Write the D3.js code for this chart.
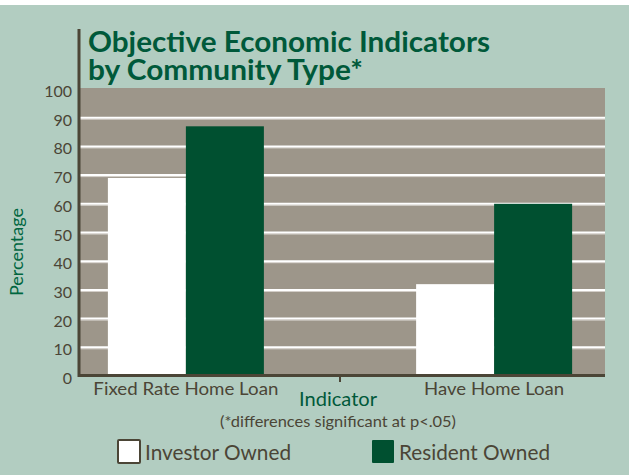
<!DOCTYPE html>
<html>
<head>
<meta charset="utf-8">
<title>Objective Economic Indicators by Community Type</title>
<script src="https://cdn.jsdelivr.net/npm/d3@7"></script>
<style>
  body { margin: 0; background: #fff; }
  text { font-family: Lato, "Open Sans", sans-serif; }
</style>
</head>
<body>
<svg id="chart"></svg>
<script>
  //1. Data
  var indicators = ["Fixed Rate Home Loan", "Have Home Loan"];
  var seriesNames = ["Investor Owned", "Resident Owned"];
  var investorOwned = [69, 32];
  var residentOwned = [87, 60];
  var yTicks = [0, 10, 20, 30, 40, 50, 60, 70, 80, 90, 100];
  var gridTicks = [10, 20, 30, 40, 50, 60, 70, 80, 90];

  //2. Properties
  var width = 629, height = 475;
  var plotLeft = 80, plotRight = 605, plotTop = 88, plotBottom = 376;
  var sage = "#b2cdc1", plotGray = "#9d968a", green = "#005030",
      titleGreen = "#00593a", dark = "#4b4536";

  var svg = d3.select("#chart").attr("width", width).attr("height", height);

  // page background (thin white strip on top, like a cropped page)
  svg.append("rect").attr("width", width).attr("height", height).attr("fill", "#fff");
  svg.append("rect").attr("y", 5).attr("width", width).attr("height", height - 5).attr("fill", sage);
  svg.append("text").attr("x", 117).attr("y", -4).attr("text-anchor", "end")
    .attr("fill", titleGreen).style("font-size", "24px").text("Housing");

  //3. Scales
  var y = d3.scaleLinear().domain([0, 100]).range([plotBottom, plotTop + 1]);
  var x = d3.scalePoint().domain(indicators).range([78, 602]).padding(0.35);
  var xs = d3.scaleBand().domain(seriesNames).range([-78, 78]);

  //4. Plot area
  svg.append("rect").attr("x", plotLeft).attr("y", plotTop)
    .attr("width", plotRight - plotLeft).attr("height", plotBottom - plotTop)
    .attr("fill", plotGray);

  var grid = svg.append("g");
  grid.selectAll(".shade").data(gridTicks).enter().append("line")
    .attr("x1", plotLeft).attr("x2", plotRight)
    .attr("y1", function(d){ return y(d) + 1.5; }).attr("y2", function(d){ return y(d) + 1.5; })
    .attr("stroke", "#d9d5cf").attr("stroke-width", 1);
  grid.selectAll(".gl").data(gridTicks).enter().append("line")
    .attr("x1", plotLeft).attr("x2", plotRight)
    .attr("y1", function(d){ return y(d); }).attr("y2", function(d){ return y(d); })
    .attr("stroke", "#fff").attr("stroke-width", 2);

  //5. Bars
  var rows = indicators.map(function(c, i){
    return { cat: c, values: [
      { s: seriesNames[0], v: investorOwned[i] },
      { s: seriesNames[1], v: residentOwned[i] } ] };
  });
  var colors = d3.scaleOrdinal().domain(seriesNames).range(["#fff", green]);

  var groups = svg.selectAll(".grp").data(rows).enter().append("g")
    .attr("transform", function(d){ return "translate(" + x(d.cat) + ",0)"; });
  groups.selectAll("rect").data(function(d){ return d.values; }).enter().append("rect")
    .attr("x", function(d){ return xs(d.s); })
    .attr("width", xs.bandwidth())
    .attr("y", function(d){ return y(d.v); })
    .attr("height", function(d){ return plotBottom - y(d.v); })
    .attr("fill", function(d){ return colors(d.s); });

  //6. Axes
  svg.append("line").attr("x1", 79).attr("x2", 79).attr("y1", 29).attr("y2", 377)
    .attr("stroke", dark).attr("stroke-width", 3);
  svg.append("line").attr("x1", 78).attr("x2", plotRight).attr("y1", 375.5).attr("y2", 375.5)
    .attr("stroke", dark).attr("stroke-width", 3);
  var mid = (x(indicators[0]) + x(indicators[1])) / 2;
  svg.append("line").attr("x1", mid).attr("x2", mid).attr("y1", 376).attr("y2", 382)
    .attr("stroke", dark).attr("stroke-width", 2);

  svg.selectAll(".ytick").data(yTicks).enter().append("text")
    .attr("x", 72).attr("y", function(d){ return y(d) + 8; })
    .attr("text-anchor", "end").attr("fill", dark).style("font-size", "16px")
    .text(function(d){ return d; });

  var xLabelWidth = [185, 140];
  svg.selectAll(".xtick").data(indicators).enter().append("text")
    .attr("x", function(d){ return x(d); }).attr("y", 395)
    .attr("text-anchor", "middle").attr("fill", dark).style("font-size", "18px")
    .attr("textLength", function(d, i){ return xLabelWidth[i]; })
    .attr("lengthAdjust", "spacingAndGlyphs")
    .text(function(d){ return d; });

  svg.append("text").attr("x", mid - 2).attr("y", 406).attr("text-anchor", "middle")
    .attr("fill", titleGreen).style("font-size", "19px")
    .attr("textLength", 78).attr("lengthAdjust", "spacingAndGlyphs").text("Indicator");
  svg.append("text").attr("x", mid - 2).attr("y", 427).attr("text-anchor", "middle")
    .attr("fill", dark).style("font-size", "16px")
    .attr("textLength", 236).attr("lengthAdjust", "spacingAndGlyphs")
    .text("(*differences significant at p<.05)");

  svg.append("text").attr("transform", "translate(23,252) rotate(-90)")
    .attr("text-anchor", "middle").attr("fill", "#00663f").style("font-size", "18px")
    .text("Percentage");

  //7. Title
  svg.append("text").attr("x", 88).attr("y", 52).attr("fill", titleGreen)
    .style("font-size", "28px").style("font-weight", "bold")
    .attr("textLength", 402).attr("lengthAdjust", "spacingAndGlyphs")
    .text("Objective Economic Indicators");
  svg.append("text").attr("x", 88).attr("y", 80).attr("fill", titleGreen)
    .style("font-size", "28px").style("font-weight", "bold")
    .attr("textLength", 275).attr("lengthAdjust", "spacingAndGlyphs")
    .text("by Community Type*");

  //8. Legend
  var legendX = [118, 372];
  var legendTextWidth = [146, 151];
  var leg = svg.selectAll(".leg").data(seriesNames).enter().append("g")
    .attr("transform", function(d, i){ return "translate(" + legendX[i] + ",440)"; });
  leg.append("rect").attr("width", 22).attr("height", 23)
    .attr("fill", function(d){ return colors(d); })
    .attr("stroke", function(d, i){ return i === 0 ? dark : "none"; })
    .attr("stroke-width", 2).attr("rx", 1);
  leg.append("text").attr("x", 27).attr("y", 20).attr("fill", dark)
    .style("font-size", "21px")
    .attr("textLength", function(d, i){ return legendTextWidth[i]; })
    .attr("lengthAdjust", "spacingAndGlyphs")
    .text(function(d){ return d; });
</script>
</body>
</html>
